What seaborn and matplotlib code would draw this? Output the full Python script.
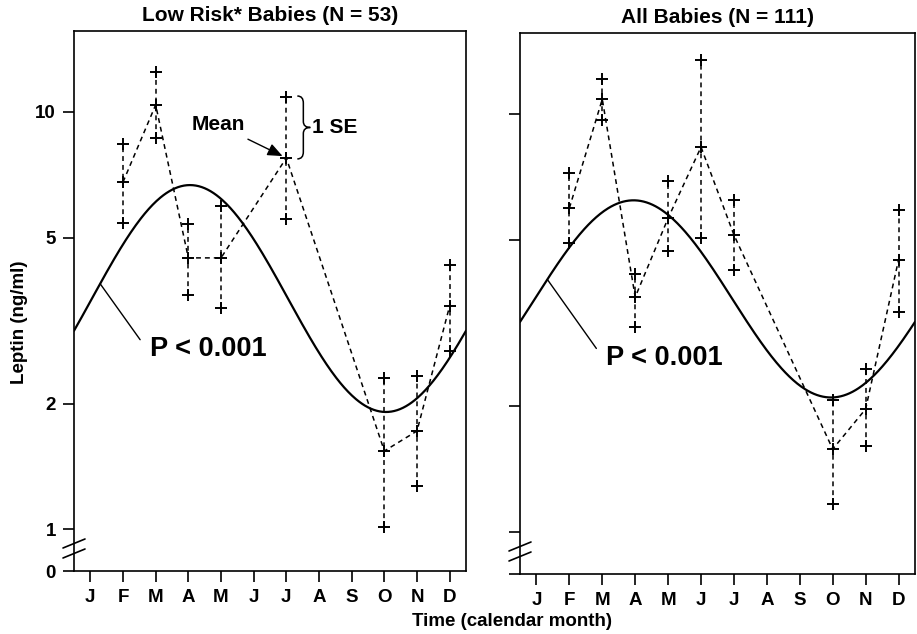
import numpy as np
import pandas as pd
import matplotlib
matplotlib.use('Agg')
import matplotlib.pyplot as plt
import seaborn as sns
from matplotlib.path import Path
from matplotlib.patches import PathPatch
from matplotlib.lines import Line2D
from matplotlib.ticker import FixedLocator, FixedFormatter, NullLocator

# ---------------- data ----------------
month_labels = ['J', 'F', 'M', 'A', 'M', 'J', 'J', 'A', 'S', 'O', 'N', 'D']

low_months = [2, 3, 4, 5, 7, 10, 11, 12]
low_mean = [6.79, 10.4, 4.47, 4.47, 7.76, 1.54, 1.72, 3.43]
low_upper = [8.38, 12.47, 5.38, 5.95, 10.86, 2.30, 2.33, 4.30]
low_lower = [5.42, 8.66, 3.64, 3.39, 5.54, 1.01, 1.27, 2.67]

all_months = [2, 3, 4, 5, 6, 7, 10, 11, 12]
all_mean = [5.96, 10.86, 3.65, 5.64, 8.34, 5.14, 1.58, 1.97, 4.48]
all_upper = [7.22, 12.1, 4.14, 6.92, 13.46, 6.22, 2.07, 2.45, 5.89]
all_lower = [4.91, 9.67, 3.09, 4.70, 5.05, 4.24, 1.17, 1.61, 3.36]

# fitted cosinor curves: month of peak, peak value, trough value
low_fit_peak_month, low_fit_peak, low_fit_trough = 4.05, 6.68, 1.91
all_fit_peak_month, all_fit_peak, all_fit_trough = 3.95, 6.22, 2.10

titles = ['Low Risk* Babies (N = 53)', 'All Babies (N = 111)']
ytick_values = [1, 2, 5, 10]
ytick_labels = ['0', '1', '2', '5', '10']

# ---------------- style ----------------
sns.set_theme(style='ticks')
plt.rcParams['font.family'] = ['Liberation Sans', 'DejaVu Sans']
plt.rcParams['font.weight'] = 'bold'
plt.rcParams['axes.linewidth'] = 1.2
plt.rcParams['lines.scale_dashes'] = True
for k in ['text.color', 'axes.labelcolor', 'xtick.color', 'ytick.color', 'axes.edgecolor']:
    plt.rcParams[k] = 'black'

DASH = (0, (3.2, 2.6))
YMIN, YMAX = 10 ** -0.1, 10 ** 1.194

fig = plt.figure(figsize=(9.17, 6.34), dpi=100)
ax1 = fig.add_axes([74 / 917, (634 - 571) / 634, 392 / 917, 540 / 634])
ax2 = fig.add_axes([520 / 917, (634 - 574) / 634, 395 / 917, 541 / 634])


def cosinor(peak_month, peak, trough):
    x = np.linspace(0.5, 12.5, 400)
    mesor = (np.log10(peak) + np.log10(trough)) / 2
    amp = (np.log10(peak) - np.log10(trough)) / 2
    return x, 10 ** (mesor + amp * np.cos(2 * np.pi * (x - peak_month) / 12))


def draw_panel(ax, months, mean, upper, lower, fit, title, show_labels):
    ax.set_yscale('log')
    df = pd.DataFrame({'month': months, 'mean': mean, 'upper': upper, 'lower': lower})
    cx, cy = cosinor(*fit)
    sns.lineplot(x=cx, y=cy, ax=ax, color='black', lw=1.6, sort=False)
    ax.vlines(df['month'], df['lower'], df['upper'], colors='black', lw=1.1, linestyles=DASH)
    sns.lineplot(data=df, x='month', y='mean', ax=ax, color='black', lw=1.1, linestyle=DASH)
    pts = pd.concat([df[['month', 'mean']].rename(columns={'mean': 'v'}),
                     df[['month', 'upper']].rename(columns={'upper': 'v'}),
                     df[['month', 'lower']].rename(columns={'lower': 'v'})])
    sns.scatterplot(data=pts, x='month', y='v', ax=ax, marker='+', s=75,
                    color='black', linewidth=1.4, zorder=5)

    ax.set_xlim(0.5, 12.5)
    ax.set_ylim(YMIN, YMAX)
    ax.xaxis.set_major_locator(FixedLocator(range(1, 13)))
    ax.xaxis.set_major_formatter(FixedFormatter(month_labels))
    ax.xaxis.set_minor_locator(NullLocator())
    ax.yaxis.set_major_locator(FixedLocator([YMIN] + ytick_values))
    ax.yaxis.set_minor_locator(NullLocator())
    if show_labels:
        ax.yaxis.set_major_formatter(FixedFormatter(ytick_labels))
    else:
        ax.yaxis.set_major_formatter(FixedFormatter([''] * 5))
    ax.tick_params(axis='both', direction='out', length=8, width=1.2,
                   labelsize=13.5, colors='black', pad=5)
    for lab in ax.get_xticklabels() + ax.get_yticklabels():
        lab.set_fontweight('bold')
    ax.set_xlabel('')
    ax.set_ylabel('')
    for s in ax.spines.values():
        s.set_color('black')
        s.set_linewidth(1.2)
    ax.set_title(title, fontsize=15, fontweight='bold', pad=7, color='black')

    # axis break marks on the y axis
    w, h = ax.bbox.width, ax.bbox.height
    for base in (13, 23):
        ax.add_line(Line2D([-11 / w, 11 / w], [base / h, (base + 9) / h],
                           transform=ax.transAxes, color='black', lw=1.2,
                           clip_on=False))
    return cx, cy


cx1, cy1 = draw_panel(ax1, low_months, low_mean, low_upper, low_lower,
                      (low_fit_peak_month, low_fit_peak, low_fit_trough), titles[0], True)
cx2, cy2 = draw_panel(ax2, all_months, all_mean, all_upper, all_lower,
                      (all_fit_peak_month, all_fit_peak, all_fit_trough), titles[1], False)

# P-value callouts
for ax, cx, cy, m, lend, toff in [
        (ax1, cx1, cy1, 1.3, (28.8, -40.3), (36, -46.8)),
        (ax2, cx2, cy2, 1.33, (35.3, -49.7), (42.5, -56.9))]:
    v = float(np.interp(m, cx, cy))
    ax.annotate('', xy=(m, v), xytext=lend, textcoords='offset points',
                arrowprops=dict(arrowstyle='-', lw=1.0, color='black',
                                shrinkA=0, shrinkB=0))
    ax.annotate('P < 0.001', xy=(m, v), xytext=toff, textcoords='offset points',
                ha='left', va='center', fontsize=19.5, fontweight='bold', color='black')

# "Mean" arrow and "1 SE" brace in the left panel (July)
jul_i = low_months.index(7)
ax1.annotate('Mean', xy=(7, low_mean[jul_i]), xytext=(-30, 24), textcoords='offset points',
             ha='right', va='center', fontsize=15, fontweight='bold', color='black',
             arrowprops=dict(arrowstyle='-|>,head_length=0.6,head_width=0.25',
                             lw=1.0, color='black', shrinkA=3, shrinkB=3))

fig.canvas.draw()
x0, ytop = ax1.transData.transform((7, low_upper[jul_i]))
_, ybot = ax1.transData.transform((7, low_mean[jul_i]))
xb = x0 + 11
ymid = (ytop + ybot) / 2
verts = [(xb, ytop + 1), (xb + 6, ytop + 1), (xb + 6, ytop - 6),
         (xb + 6, ymid + 6),
         (xb + 6, ymid), (xb + 13, ymid),
         (xb + 6, ymid), (xb + 6, ymid - 6),
         (xb + 6, ybot + 6),
         (xb + 6, ybot - 1), (xb, ybot - 1)]
codes = [Path.MOVETO, Path.CURVE3, Path.CURVE3, Path.LINETO,
         Path.CURVE3, Path.CURVE3, Path.CURVE3, Path.CURVE3,
         Path.LINETO, Path.CURVE3, Path.CURVE3]
brace = PathPatch(Path(verts, codes), transform=None, facecolor='none',
                  edgecolor='black', lw=1.1)
fig.patches.append(brace)
brace.set_figure(fig)
ax1.annotate('1 SE', xy=(7, low_upper[jul_i]), xycoords='data',
             xytext=(xb + 15 - x0, ymid - ytop), textcoords='offset pixels',
             ha='left', va='center', fontsize=15, fontweight='bold', color='black')

fig.text(20 / 917, 1 - 322 / 634, 'Leptin (ng/ml)', rotation=90, ha='center', va='center',
         fontsize=13.5, fontweight='bold', color='black')
fig.text(512 / 917, 1 - 622 / 634, 'Time (calendar month)', ha='center', va='center',
         fontsize=13.5, fontweight='bold', color='black')

fig.savefig('out.png', dpi=100, facecolor='white')
